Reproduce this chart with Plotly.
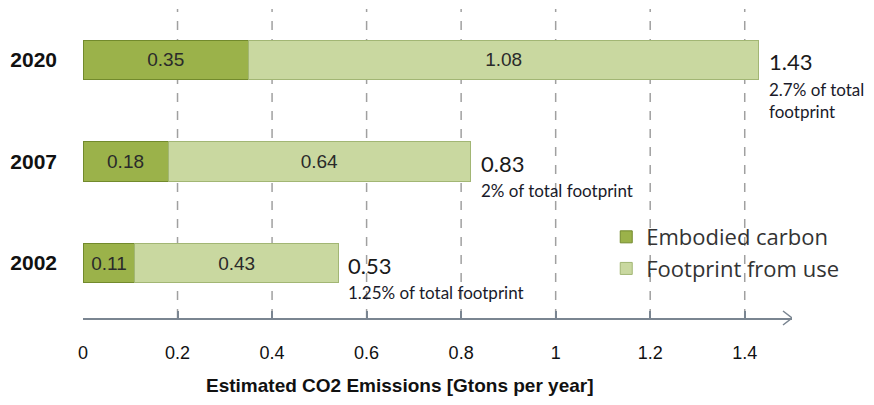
import plotly.graph_objects as go

years = ["2002", "2007", "2020"]
embodied = [0.11, 0.18, 0.35]
from_use = [0.43, 0.64, 1.08]
totals = ["0.53", "0.83", "1.43"]
notes = ["1.25% of total footprint", "2% of total footprint", "2.7% of total<br>footprint"]
ticks = [0, 0.2, 0.4, 0.6, 0.8, 1, 1.2, 1.4]

fig = go.Figure()

fig.add_trace(go.Bar(
    y=years, x=embodied, orientation='h', name='Embodied carbon',
    marker=dict(color='#9bb24a', line=dict(color='#728a2c', width=1)),
    text=[f'{v:.2f}' for v in embodied], textposition='inside',
    insidetextanchor='middle',
    textfont=dict(family='Liberation Sans', size=19, color='#2a2a2a'),
    width=0.39
))
fig.add_trace(go.Bar(
    y=years, x=from_use, orientation='h', name='Footprint from use',
    marker=dict(color='#c9d8a0', line=dict(color='#a2b674', width=1)),
    text=[f'{v:.2f}' for v in from_use], textposition='inside',
    insidetextanchor='middle',
    textfont=dict(family='Liberation Sans', size=19, color='#2a2a2a'),
    width=0.39
))

# total labels and notes at the end of each bar
for i, y in enumerate(years):
    end = embodied[i] + from_use[i]
    fig.add_annotation(x=end, y=i, text=totals[i], showarrow=False,
                       xanchor='left', yanchor='middle', xshift=8, yshift=-2,
                       font=dict(family='Lato', size=22, color='#1a1a1a'))
    fig.add_annotation(x=end, y=i, text=notes[i], showarrow=False,
                       xanchor='left', yanchor='top', xshift=8, yshift=-17,
                       align='left',
                       font=dict(family='Lato', size=17, color='#1a1a2a'))

# dashed gridlines (none at zero)
for t in ticks[1:]:
    fig.add_shape(type='line', xref='x', yref='paper', x0=t, x1=t, y0=0, y1=1,
                  line=dict(color='#a0a0a0', width=1.5, dash='dash'), layer='below')

# arrow head at the end of the x axis
fig.add_shape(type='path', xref='x', yref='paper', xsizemode='pixel', ysizemode='pixel',
              xanchor=1.5, yanchor=0, path='M -9,7 L 0,0 L -9,-7',
              line=dict(color='#7a8591', width=1.5))

# axis title sits left of the plot centre in the original
fig.add_annotation(x=0.447, y=0, xref='paper', yref='paper', yanchor='middle',
                   yshift=-67, showarrow=False,
                   text='<b>Estimated CO2 Emissions [Gtons per year]</b>',
                   font=dict(family='Liberation Sans', size=19, color='#111111'))

fig.update_layout(
    barmode='stack',
    width=874, height=405,
    margin=dict(l=75, r=90, t=1, b=95),
    plot_bgcolor='white', paper_bgcolor='white',
    showlegend=True,
    legend=dict(x=0.738, y=0.33, xanchor='left', yanchor='top',
                bgcolor='rgba(0,0,0,0)',
                font=dict(family='Open Sans', size=22, color='#333333'),
                tracegroupgap=1, traceorder='normal'),
    xaxis=dict(range=[0, 1.5], tickvals=ticks, ticktext=[f'{t:g}' for t in ticks],
               showgrid=False, zeroline=False, showline=True, automargin=False,
               linecolor='#7a8591', linewidth=2,
               ticks='inside', ticklen=7, tickcolor='#7a8591', tickwidth=1.5,
               ticklabelstandoff=17,
               tickfont=dict(family='Liberation Sans', size=18, color='#111111')),
    yaxis=dict(type='category', range=[-0.54, 2.5], showgrid=False, zeroline=False,
               showline=False, automargin=False,
               ticks='', ticklabelstandoff=25,
               tickfont=dict(family='Liberation Sans', size=21, color='#111111'),
               tickvals=years, ticktext=[f'<b>{y}</b>' for y in years]),
)

fig.write_html("out.html")
